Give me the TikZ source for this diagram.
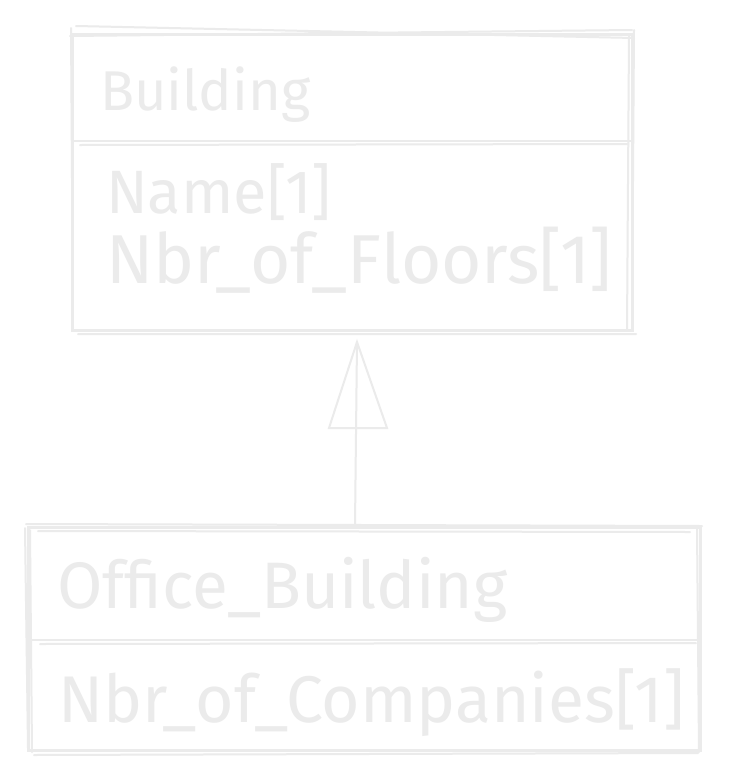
\documentclass[tikz,border=0pt]{standalone}
\usepackage{fontspec}
\setmainfont{Fira Sans}
\usetikzlibrary{arrows.meta}
\definecolor{sk}{HTML}{EBEBEB}
\begin{document}
\begin{tikzpicture}[x=1pt,y=-1pt,
  box/.style={draw=sk, line width=3pt, inner sep=0pt},
  sketch/.style={draw=sk, line width=2pt, line cap=round},
  txt/.style={text=sk, anchor=base west, inner sep=0pt, font=\fontsize{50}{60}\selectfont}]
\useasboundingbox (0,0) rectangle (729,782);
\fill[white] (0,0) rectangle (729,782);
% top class
\node[box, minimum width=560pt, minimum height=296pt] (building) at (352,182) {};
\draw[sketch] (70,36) -- (632,30) (76,26) -- (634,38) (71,28) -- (73,328) (629,36) -- (627,330) (78,334) -- (636,334) (634,30) -- (632,330);
\coordinate (bdl) at (72,141);
\coordinate (bdr) at (632,141);
\draw[sk, line width=2.6pt] (bdl) -- (bdr);
\draw[sketch] (80,145) -- (628,144);
\node[txt] (t1) at (100,110) {\resizebox{210pt}{!}{Building}};
\node[txt] (t2) at (106,213) {\resizebox{225pt}{!}{Name[1]}};
\node[txt] (t3) at (106,283) {\resizebox{506pt}{!}{Nbr\_of\_Floors[1]}};
% bottom class
\node[box, minimum width=672pt, minimum height=223pt] (office) at (364,638.5) {};
\draw[sketch] (26,524) -- (702,526) (30,530) -- (32,752) (697,528) -- (699,752) (34,755) -- (698,753) (25,528) -- (28,748) (38,531) -- (690,532);
\coordinate (odl) at (30,640);
\coordinate (odr) at (700,640);
\draw[sk, line width=2.6pt] (odl) -- (odr);
\draw[sketch] (40,644) -- (696,643);
\node[txt] (t4) at (57,608) {\resizebox{450pt}{!}{Office\_Building}};
\node[txt] (t5) at (58,722) {\resizebox{626pt}{!}{Nbr\_of\_Companies[1]}};
% generalization
\coordinate (apex) at (357,342);
\draw[sk, line width=2pt] ([xshift=-9pt]office.north) -- (apex);
\draw[sk, line width=2pt, line join=miter] (apex) -- ++(-28,86) -- ++(58,0) -- cycle;
\end{tikzpicture}
\end{document}
